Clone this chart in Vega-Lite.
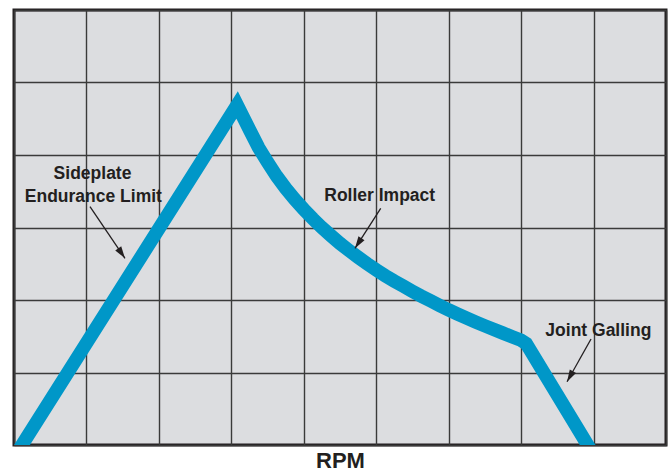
{
  "$schema": "https://vega.github.io/schema/vega-lite/v6.json",
  "width": 652,
  "height": 435,
  "autosize": {"type": "none"},
  "padding": {"left": 14, "top": 10, "right": 6, "bottom": 27},
  "background": "#ffffff",
  "config": {
    "view": {"fill": "#dcdde0", "stroke": "#231f20", "strokeWidth": 3},
    "axis": {"grid": true, "gridColor": "#3a3a3a", "gridWidth": 1.4, "gridOpacity": 1, "labels": false, "ticks": false, "domain": false},
    "axisX": {"tickCount": 9, "titleFont": "Liberation Sans", "titleFontSize": 22, "titleFontWeight": "bold", "titleColor": "#231f20", "titlePadding": 5},
    "axisY": {"tickCount": 6}
  },
  "datasets": {
    "curve": [
      {"i": 0, "x": -0.08, "y": -0.3},
      {"i": 1, "x": 3.08, "y": 4.69},
      {"i": 2, "x": 3.25, "y": 4.35},
      {"i": 3, "x": 3.375, "y": 4.105},
      {"i": 4, "x": 3.5, "y": 3.9},
      {"i": 5, "x": 3.625, "y": 3.709},
      {"i": 6, "x": 3.75, "y": 3.54},
      {"i": 7, "x": 3.875, "y": 3.388},
      {"i": 8, "x": 4.0, "y": 3.25},
      {"i": 9, "x": 4.125, "y": 3.12},
      {"i": 10, "x": 4.25, "y": 3.0},
      {"i": 11, "x": 4.375, "y": 2.888},
      {"i": 12, "x": 4.5, "y": 2.78},
      {"i": 13, "x": 4.625, "y": 2.683},
      {"i": 14, "x": 4.75, "y": 2.59},
      {"i": 15, "x": 4.875, "y": 2.5},
      {"i": 16, "x": 5.0, "y": 2.415},
      {"i": 17, "x": 5.125, "y": 2.335},
      {"i": 18, "x": 5.25, "y": 2.26},
      {"i": 19, "x": 5.375, "y": 2.19},
      {"i": 20, "x": 5.5, "y": 2.12},
      {"i": 21, "x": 5.625, "y": 2.053},
      {"i": 22, "x": 5.75, "y": 1.99},
      {"i": 23, "x": 5.875, "y": 1.925},
      {"i": 24, "x": 6.0, "y": 1.863},
      {"i": 25, "x": 6.125, "y": 1.805},
      {"i": 26, "x": 6.25, "y": 1.75},
      {"i": 27, "x": 6.375, "y": 1.695},
      {"i": 28, "x": 6.5, "y": 1.643},
      {"i": 29, "x": 6.625, "y": 1.592},
      {"i": 30, "x": 6.75, "y": 1.543},
      {"i": 31, "x": 6.875, "y": 1.493},
      {"i": 32, "x": 7.0, "y": 1.445},
      {"i": 33, "x": 7.07, "y": 1.4},
      {"i": 34, "x": 8.1, "y": -0.3}
    ],
    "labels": [
      {"label": "Sideplate", "x": 1.084, "y": 3.665},
      {"label": "Endurance Limit", "x": 1.095, "y": 3.356},
      {"label": "Roller Impact", "x": 5.048, "y": 3.366},
      {"label": "Joint Galling", "x": 8.066, "y": 1.503}
    ],
    "arrows": [
      {"x0": 1.049, "y0": 3.287, "x": 1.532, "y": 2.575},
      {"x0": 5.062, "y0": 3.265, "x": 4.707, "y": 2.713},
      {"x0": 7.965, "y0": 1.462, "x": 7.634, "y": 0.873}
    ]
  },
  "layer": [
    {
      "data": {"name": "curve"},
      "mark": {"type": "line", "color": "#0097c8", "strokeWidth": 13.5, "strokeJoin": "miter", "strokeCap": "butt", "clip": true},
      "encoding": {
        "x": {"field": "x", "type": "quantitative", "scale": {"domain": [0, 9], "nice": false, "zero": false}, "title": "RPM"},
        "y": {"field": "y", "type": "quantitative", "scale": {"domain": [0, 6], "nice": false, "zero": false}, "title": null},
        "order": {"field": "i", "type": "quantitative"}
      }
    },
    {
      "data": {"name": "arrows"},
      "mark": {"type": "rule", "color": "#231f20", "strokeWidth": 1.3},
      "encoding": {
        "x": {"field": "x0", "type": "quantitative", "scale": {"domain": [0, 9], "nice": false, "zero": false}, "title": "RPM"},
        "y": {"field": "y0", "type": "quantitative", "scale": {"domain": [0, 6], "nice": false, "zero": false}, "title": null},
        "x2": {"field": "x"},
        "y2": {"field": "y"}
      }
    },
    {
      "data": {"name": "arrows"},
      "transform": [{"calculate": "atan2((datum.x - datum.x0) * 72.44, (datum.y - datum.y0) * 72.5) * 180 / PI", "as": "ang"}],
      "mark": {"type": "point", "shape": "M0,0L-0.3,1L0.3,1Z", "filled": true, "color": "#231f20", "opacity": 1, "size": 576, "strokeWidth": 0},
      "encoding": {
        "x": {"field": "x", "type": "quantitative", "scale": {"domain": [0, 9], "nice": false, "zero": false}, "title": "RPM"},
        "y": {"field": "y", "type": "quantitative", "scale": {"domain": [0, 6], "nice": false, "zero": false}, "title": null},
        "angle": {"field": "ang", "type": "quantitative", "scale": null}
      }
    },
    {
      "data": {"name": "labels"},
      "mark": {"type": "text", "font": "Liberation Sans", "fontSize": 17.5, "fontWeight": "bold", "color": "#231f20", "align": "center", "baseline": "alphabetic"},
      "encoding": {
        "x": {"field": "x", "type": "quantitative", "scale": {"domain": [0, 9], "nice": false, "zero": false}, "title": "RPM"},
        "y": {"field": "y", "type": "quantitative", "scale": {"domain": [0, 6], "nice": false, "zero": false}, "title": null},
        "text": {"field": "label"}
      }
    }
  ]
}
